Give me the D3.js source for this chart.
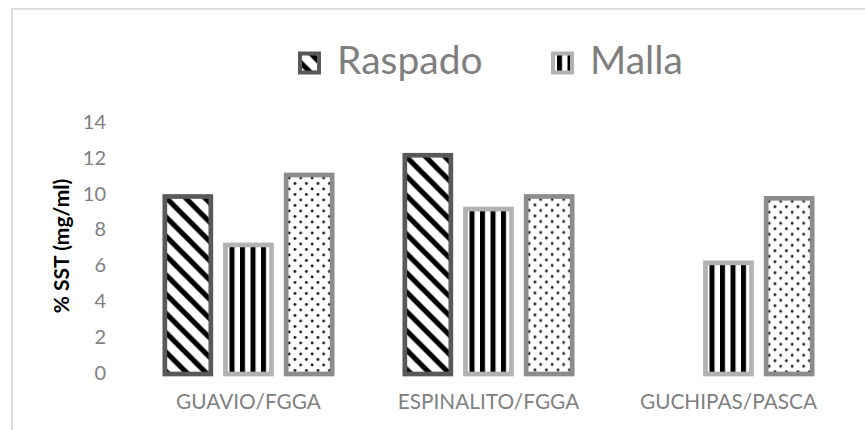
<!DOCTYPE html>
<head>
   <meta charset="utf-8">
   <script src="https://d3js.org/d3.v7.min.js"></script>
   <style>
   body{
      margin: 0;
      background: #ffffff;
   }
   text{
      font-family: Lato, "Open Sans", sans-serif;
   }
   text.legendText{
      font-size: 39px;
      fill: #7f7f7f;
   }
   text.yTitle{
      font-size: 21px;
      font-weight: 700;
      fill: #000000;
   }
   .yAxis .tick text{
      font-size: 20px;
      fill: #808080;
   }
   .xAxis .tick text{
      font-size: 20.8px;
      fill: #808080;
   }
   path.domain{
      display: none;
   }
   </style>
   <title>% SST</title>
</head>

<body>
   <script>
const width  = 865;
const height = 430;

// data
const categories = ['GUAVIO/FGGA', 'ESPINALITO/FGGA', 'GUCHIPAS/PASCA'];
const seriesNames = ['Raspado', 'Malla', 'Serie3'];
const raspado = [9.9, 12.2, null];
const malla   = [7.2, 9.2, 6.2];
const serie3  = [11.1, 9.9, 9.8];
const yTicks  = [0, 2, 4, 6, 8, 10, 12, 14];
const legendNames = ['Raspado', 'Malla'];

const seriesValues = [raspado, malla, serie3];
const borderColours = ['#595959', '#b2b2b2', '#8c8c8c'];
const patternKind   = ['diag', 'vert', 'dots'];

const margin = {top: 123, bottom: 56, left: 128.5, right: 16.5};

const svg = d3.select('body').append('svg')
   .attr('width', width)
   .attr('height', height);

const defs = svg.append('defs');

// chart area outline (only top and left edge are on screen)
svg.append('rect')
   .attr('x', 12)
   .attr('y', 8.8)
   .attr('width', width + 20)
   .attr('height', height + 20)
   .style('fill', 'none')
   .style('stroke', '#d9d9d9')
   .style('stroke-width', 1.8);

const x0 = d3.scaleBand()
   .domain(categories)
   .range([margin.left, width - margin.right])
   .padding(0);

const xs = d3.scaleBand()
   .domain(seriesNames)
   .range([-91, 91])
   .paddingInner(0.242)
   .paddingOuter(0.121);

const y = d3.scaleLinear()
   .domain([0, 14])
   .range([height - margin.bottom, margin.top]);

// one pattern per bar so that the hatching starts at the bar's edge
function makePattern(id, kind, ox, oy){
   let p;
   if( kind == 'diag' ){
      const P = 19.3;
      p = defs.append('pattern')
         .attr('id', id)
         .attr('patternUnits', 'userSpaceOnUse')
         .attr('x', ox).attr('y', oy)
         .attr('width', P).attr('height', P);
      p.append('rect').attr('width', P).attr('height', P).style('fill', '#fff');
      p.append('path')
         .attr('d', `M-6,${P-6}L6,${P+6}M0,0L${P},${P}M${P-6},-6L${P+6},6`)
         .style('stroke', '#000')
         .style('stroke-width', 5.2);
   }
   else if( kind == 'vert' ){
      const P = 10.5;
      p = defs.append('pattern')
         .attr('id', id)
         .attr('patternUnits', 'userSpaceOnUse')
         .attr('x', ox).attr('y', oy)
         .attr('width', P).attr('height', 10);
      p.append('rect').attr('width', P).attr('height', 10).style('fill', '#fff');
      p.append('rect').attr('x', 0).attr('width', 5).attr('height', 10).style('fill', '#000');
   }
   else {
      const W = 11.5, H = 11;
      p = defs.append('pattern')
         .attr('id', id)
         .attr('patternUnits', 'userSpaceOnUse')
         .attr('x', ox).attr('y', oy)
         .attr('width', W).attr('height', H);
      p.append('rect').attr('width', W).attr('height', H).style('fill', '#fff');
      p.append('circle').attr('cx', 3).attr('cy', 3).attr('r', 1.4).style('fill', '#1a1a1a');
      p.append('circle').attr('cx', 3 + W/2).attr('cy', 3 + H/2).attr('r', 1.4).style('fill', '#1a1a1a');
   }
}

// flatten into bar records
const bars = [];
categories.forEach((c, i) => {
   seriesValues.forEach((vals, j) => {
      if( vals[i] == null ) return;
      bars.push({cat: c, s: j, name: seriesNames[j], value: vals[i]});
   });
});

bars.forEach((d, k) => {
   d.x = x0(d.cat) + x0.bandwidth()/2 + xs(d.name);
   d.pid = `pat-${k}`;
   makePattern(d.pid, patternKind[d.s], d.x + (d.s == 1 ? 4 : 0), y(d.value));
});

// y axis
const yAxis = d3.axisLeft(y)
   .tickValues(yTicks)
   .tickSize(0)
   .tickPadding(0);

svg.append('g')
   .attr('class', 'axis yAxis')
   .attr('transform', 'translate(106, -1)')
   .call(yAxis);

svg.append('text')
   .attr('class', 'yTitle')
   .attr('transform', 'translate(69, 246) rotate(-90)')
   .style('text-anchor', 'middle')
   .text('% SST (mg/ml)');

// x axis labels
const xAxis = d3.axisBottom(x0)
   .tickSize(0)
   .tickPadding(0);

svg.append('g')
   .attr('class', 'axis xAxis')
   .attr('transform', `translate(0, ${height - margin.bottom + 20})`)
   .call(xAxis);

// bars
svg.selectAll('rect.bar')
   .data(bars)
   .enter()
   .append('rect')
   .attr('class', 'bar')
   .attr('x', d => d.x)
   .attr('y', d => y(d.value))
   .attr('width', xs.bandwidth())
   .attr('height', d => y(0) - y(d.value))
   .style('fill', d => `url(#${d.pid})`)
   .style('stroke', d => borderColours[d.s])
   .style('stroke-width', 4.7);

// legend
const legendX = [299, 552];
legendNames.forEach((n, i) => {
   makePattern(`leg-${i}`, patternKind[i], legendX[i] + (i == 1 ? 5 : -7), 54);
   svg.append('rect')
      .attr('x', legendX[i] + 1)
      .attr('y', 53.5)
      .attr('width', 19)
      .attr('height', 19)
      .style('fill', `url(#leg-${i})`)
      .style('stroke', borderColours[i])
      .style('stroke-width', 4);
   svg.append('text')
      .attr('class', 'legendText')
      .attr('x', legendX[i] + 38)
      .attr('y', 73.5)
      .text(n);
});
   </script>
</body>
